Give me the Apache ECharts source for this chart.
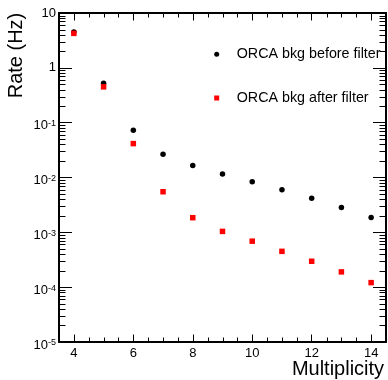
<!DOCTYPE html>
<html>
<head>
<meta charset="utf-8">
<script src="https://cdn.jsdelivr.net/npm/echarts@6/dist/echarts.min.js"></script>
<style>
  html, body { margin: 0; padding: 0; background: #fff; }
  #chart { width: 388px; height: 380px; }
</style>
</head>
<body>
<div id="chart"></div>
<script>
// 數據
const multiplicity = [4, 5, 6, 7, 8, 9, 10, 11, 12, 13, 14]
const rateBefore = [4.5, 0.525, 0.073, 0.0265, 0.0165, 0.0116, 0.0084, 0.006, 0.0042, 0.00285, 0.00187]
const rateAfter = [4.25, 0.45, 0.0415, 0.0055, 0.00185, 0.00104, 0.00069, 0.00045, 0.000297, 0.00019, 0.000121]

// 刻度
const xLabelTicks = [4, 6, 8, 10, 12, 14]
const xMinorTicks = [4.5, 5, 5.5, 6.5, 7, 7.5, 8.5, 9, 9.5, 10.5, 11, 11.5, 12.5, 13, 13.5]
const yDecades = [1e-5, 1e-4, 1e-3, 1e-2, 1e-1, 1, 10]
const yMantissas = [2, 3, 4, 5, 6, 7, 8, 9]

const X_MIN = 3.5
const X_MAX = 14.5
const Y_MIN = 1e-5
const Y_MAX = 10
const FONT = '"Liberation Sans", Arial, Helvetica, sans-serif'

// 每個十進位之間的次刻度 2..9
const yMinorTicks = yDecades.slice(0, -1).flatMap((d) => yMantissas.map((m) => m * d))

const px = (v) => Math.round(v) + 0.5

const yLabel = (v) => {
  const e = Math.round(Math.log10(v))
  if (e === 0) return '{p|1}'
  if (e === 1) return '{p|10}'
  return '{b|10}{s|' + e + '}'
}

const tickStyle = { stroke: '#000', lineWidth: 1 }

const myChart = echarts.init(document.getElementById('chart'))

const option = {
  animation: false,
  backgroundColor: '#fff',
  grid: { left: 59, right: 2, top: 13, bottom: 38, containLabel: false, outerBoundsMode: 'none' },
  legend: [
    {
      left: 214.2,
      top: 47.3,
      padding: 0,
      selectedMode: false,
      itemWidth: 5,
      itemHeight: 5,
      data: [{ name: 'ORCA bkg before filter', icon: 'circle' }],
      textStyle: { fontFamily: FONT, fontSize: 14.3, color: '#000', padding: [0, 0, 0, 12.5] },
    },
    {
      left: 214.2,
      top: 91,
      padding: 0,
      selectedMode: false,
      itemWidth: 5,
      itemHeight: 5,
      data: [{ name: 'ORCA bkg after filter', icon: 'rect' }],
      textStyle: { fontFamily: FONT, fontSize: 14.3, color: '#000', padding: [0, 0, 0, 12.5] },
    },
  ],
  xAxis: [
    {
      type: 'value',
      position: 'bottom',
      min: X_MIN,
      max: X_MAX,
      name: 'Multiplicity',
      nameLocation: 'middle',
      nameGap: 17,
      nameMoveOverlap: false,
      nameTextStyle: { fontFamily: FONT, fontSize: 20, lineHeight: 20, color: '#000', padding: [0, 0, 0, 231] },
      axisLine: { onZero: false, lineStyle: { color: '#000', width: 2 } },
      axisTick: { inside: true, length: 7.5, customValues: xLabelTicks, lineStyle: { color: '#000' } },
      axisLabel: { customValues: xLabelTicks, margin: 5, fontFamily: FONT, fontSize: 13, color: '#000' },
      splitLine: { show: false },
    },
    {
      type: 'value',
      position: 'top',
      min: X_MIN,
      max: X_MAX,
      axisLine: { onZero: false, lineStyle: { color: '#000', width: 2 } },
      axisTick: { inside: true, length: 7.5, customValues: xLabelTicks, lineStyle: { color: '#000' } },
      axisLabel: { show: false },
      splitLine: { show: false },
    },
  ],
  yAxis: [
    {
      type: 'log',
      logBase: 10,
      position: 'left',
      min: Y_MIN,
      max: Y_MAX,
      name: 'Rate (Hz)',
      nameLocation: 'middle',
      nameGap: 33,
      nameMoveOverlap: false,
      nameTextStyle: { fontFamily: FONT, fontSize: 20, lineHeight: 20, color: '#000', padding: [0, 0, 0, 244] },
      axisLine: { onZero: false, lineStyle: { color: '#000', width: 2 } },
      axisTick: { inside: true, length: 13, customValues: yDecades, lineStyle: { color: '#000' } },
      axisLabel: {
        customValues: yDecades,
        margin: 3,
        color: '#000',
        formatter: yLabel,
        rich: {
          p: { fontFamily: FONT, fontSize: 13, lineHeight: 13, color: '#000' },
          b: { fontFamily: FONT, fontSize: 13, lineHeight: 13, padding: [6, 0, 0, 0], color: '#000' },
          s: { fontFamily: FONT, fontSize: 9, lineHeight: 9, padding: [3, 0, 0, 0], verticalAlign: 'top', color: '#000' },
        },
      },
      splitLine: { show: false },
    },
    {
      type: 'log',
      logBase: 10,
      position: 'right',
      min: Y_MIN,
      max: Y_MAX,
      axisLine: { onZero: false, lineStyle: { color: '#000', width: 2 } },
      axisTick: { inside: true, length: 13, customValues: yDecades, lineStyle: { color: '#000' } },
      axisLabel: { show: false },
      splitLine: { show: false },
    },
  ],
  series: [
    // x 軸次刻度（上下）
    {
      type: 'custom',
      silent: true,
      z: 1,
      data: xMinorTicks.map((v) => [v, Y_MIN]),
      renderItem: (params, api) => {
        const b = api.coord([api.value(0), Y_MIN])
        const t = api.coord([api.value(0), Y_MAX])
        return {
          type: 'group',
          children: [
            { type: 'line', shape: { x1: px(b[0]), y1: b[1], x2: px(b[0]), y2: b[1] - 4.5 }, style: tickStyle },
            { type: 'line', shape: { x1: px(t[0]), y1: t[1], x2: px(t[0]), y2: t[1] + 4.5 }, style: tickStyle },
          ],
        }
      },
    },
    // y 軸次刻度（左右）
    {
      type: 'custom',
      silent: true,
      z: 1,
      data: yMinorTicks.map((v) => [X_MIN, v]),
      renderItem: (params, api) => {
        const l = api.coord([X_MIN, api.value(1)])
        const r = api.coord([X_MAX, api.value(1)])
        return {
          type: 'group',
          children: [
            { type: 'line', shape: { x1: l[0], y1: px(l[1]), x2: l[0] + 6.5, y2: px(l[1]) }, style: tickStyle },
            { type: 'line', shape: { x1: r[0], y1: px(r[1]), x2: r[0] - 6.5, y2: px(r[1]) }, style: tickStyle },
          ],
        }
      },
    },
    {
      name: 'ORCA bkg before filter',
      type: 'scatter',
      symbol: 'circle',
      symbolSize: 5.5,
      z: 3,
      itemStyle: { color: '#000', opacity: 1 },
      data: multiplicity.map((m, i) => [m, rateBefore[i]]),
    },
    {
      name: 'ORCA bkg after filter',
      type: 'scatter',
      symbol: 'rect',
      symbolSize: 5.5,
      z: 4,
      itemStyle: { color: '#ff0000', opacity: 1 },
      data: multiplicity.map((m, i) => [m, rateAfter[i]]),
    },
  ],
}

myChart.setOption(option)
</script>
</body>
</html>
